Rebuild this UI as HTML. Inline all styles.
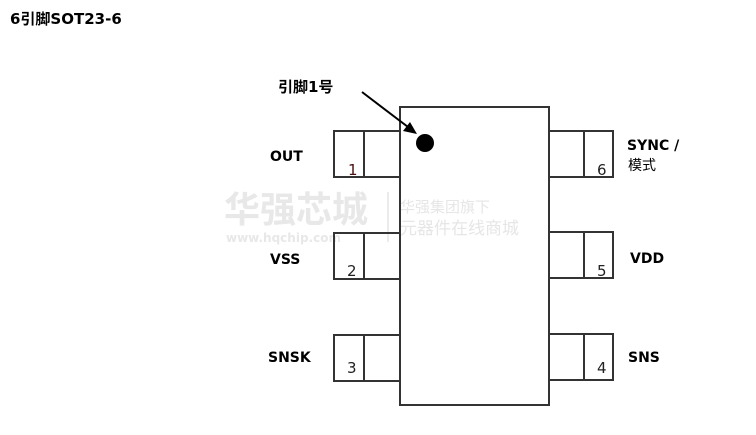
<!DOCTYPE html>
<html><head><meta charset="utf-8"><style>
body{margin:0;background:#fff;width:756px;height:435px;overflow:hidden}
svg{display:block}
text{font-family:"DejaVu Sans","Noto Sans CJK SC",sans-serif}
</style></head><body>
<svg width="756" height="435" viewBox="0 0 756 435">
<text x="10" y="24" font-size="15" font-weight="bold" fill="#000">6引脚SOT23-6</text>
<g font-weight="bold">
<text x="224" y="222" font-size="36" fill="#e8e8e8">华强芯城</text>
<text x="226" y="242" font-size="12" fill="#e8e8e8">www.hqchip.com</text>
</g>
<line x1="388" y1="192" x2="388" y2="242" stroke="#e6e6e6" stroke-width="1.5"/>
<text x="400" y="212" font-size="15" fill="#e6e6e6">华强集团旗下</text>
<text x="400" y="234" font-size="17" fill="#e6e6e6">元器件在线商城</text>
<g fill="none" stroke="#333" stroke-width="2">
<rect x="400" y="107" width="149" height="298"/>
<rect x="334" y="131" width="66" height="46"/><line x1="364" y1="131" x2="364" y2="177"/>
<rect x="334" y="233" width="66" height="46"/><line x1="364" y1="233" x2="364" y2="279"/>
<rect x="334" y="335" width="66" height="46"/><line x1="364" y1="335" x2="364" y2="381"/>
<rect x="549" y="131" width="64" height="46"/><line x1="584" y1="131" x2="584" y2="177"/>
<rect x="549" y="232" width="64" height="46"/><line x1="584" y1="232" x2="584" y2="278"/>
<rect x="549" y="334" width="64" height="46"/><line x1="584" y1="334" x2="584" y2="380"/>
</g>
<circle cx="425" cy="143" r="9" fill="#000"/>
<line x1="362" y1="92" x2="408" y2="127" stroke="#000" stroke-width="2"/>
<polygon points="417,134 403,131 410,122" fill="#000"/>
<text x="278" y="92" font-size="15" font-weight="bold">引脚1号</text>
<g font-size="14" font-weight="bold">
<text x="270" y="161">OUT</text>
<text x="270" y="264">VSS</text>
<text x="268" y="362">SNSK</text>
<text x="627" y="150">SYNC /</text>
<text x="630" y="263">VDD</text>
<text x="628" y="362">SNS</text>
</g>
<text x="628" y="170" font-size="14">模式</text>
<g font-size="15" fill="#222" font-family="DejaVu Sans">
<text x="348" y="175" fill="#4a1010">1</text>
<text x="347" y="276">2</text>
<text x="347" y="373">3</text>
<text x="597" y="175">6</text>
<text x="597" y="276">5</text>
<text x="597" y="373">4</text>
</g>
</svg>
</body></html>
